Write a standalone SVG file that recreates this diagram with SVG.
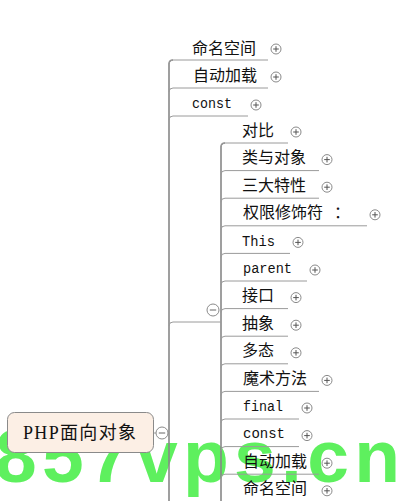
<svg xmlns="http://www.w3.org/2000/svg" xmlns:xlink="http://www.w3.org/1999/xlink" width="409" height="501" viewBox="0 0 409 501">
<style>
.cjk{font-family:"Noto Sans CJK SC","Liberation Sans",sans-serif;font-size:16px;fill:#111}
.lat{font-family:"Liberation Mono","Noto Sans CJK SC",monospace;font-size:14.5px;fill:#111}
.ul{fill:none;stroke:#9a9a9a;stroke-width:1}
.trunk{fill:none;stroke:#888;stroke-width:1.6}
.wm{font-family:"Liberation Sans",sans-serif;font-weight:bold;font-size:75px;fill:#5ef05e}
</style>
<defs>
<g id="plus"><circle r="5" fill="#fff" stroke="#8a8a8a" stroke-width="1"/><path d="M-2.8,0H2.8M0,-2.8V2.8" stroke="#555" stroke-width="1"/></g>
<g id="minus"><circle r="6" fill="#fff" stroke="#8a8a8a" stroke-width="1"/><path d="M-3.2,0H3.2" stroke="#666" stroke-width="1"/></g>
</defs>
<rect width="409" height="501" fill="#fff"/>
<text class="wm" x="-5" y="482" textLength="405" lengthAdjust="spacing">857vps.cn</text>

<g id="connectors">
<path class="trunk" d="M169,501V64Q169,60 173,60"/>
<path class="trunk" d="M221,501V147Q221,143 225,143"/>
<path class="ul" d="M169,326Q169,322 173,322H221"/>
<path class="ul" d="M154,433H156"/>
<path class="ul" d="M168,433H169"/>
<use xlink:href="#minus" x="162" y="433"/>
<use xlink:href="#minus" x="213" y="310"/>
</g>

<g id="root">
<rect x="7.5" y="412.5" width="146" height="40" rx="7" fill="#fcefe5" stroke="#8a8a8a" stroke-width="1"/>
<text x="23" y="439" font-family="Liberation Serif,Noto Sans CJK SC,serif" font-size="18" fill="#111" textLength="113" lengthAdjust="spacing">PHP面向对象</text>
</g>

<g id="n-top1"><path class="ul" d="M169,64Q169,60 173,60H268"/><text class="cjk" x="192" y="53.5">命名空间</text><use xlink:href="#plus" x="276" y="49"/></g>
<g id="n-top2"><path class="ul" d="M169,92Q169,88 173,88H268"/><text class="cjk" x="193" y="81">自动加载</text><use xlink:href="#plus" x="276" y="77"/></g>
<g id="n-top3"><path class="ul" d="M169,120Q169,116 173,116H248"/><text class="lat" x="192" y="107.5" textLength="40" lengthAdjust="spacingAndGlyphs">const</text><use xlink:href="#plus" x="256" y="105"/></g>

<g id="n-duibi"><path class="ul" d="M221,147Q221,143 225,143H288"/><text class="cjk" x="242" y="135.5">对比</text><use xlink:href="#plus" x="296" y="132"/></g>
<g id="n-lei"><path class="ul" d="M221,174.6Q221,170.6 225,170.6H319"/><text class="cjk" x="242" y="163.1">类与对象</text><use xlink:href="#plus" x="327" y="159.6"/></g>
<g id="n-sanda"><path class="ul" d="M221,202.2Q221,198.2 225,198.2H319"/><text class="cjk" x="242" y="190.7">三大特性</text><use xlink:href="#plus" x="327" y="187.2"/></g>
<g id="n-quanxian"><path class="ul" d="M221,229.8Q221,225.8 225,225.8H367"/><text class="cjk" x="243" y="218.3">权限修饰符<tspan x="334">：</tspan></text><use xlink:href="#plus" x="375" y="214.8"/></g>
<g id="n-this"><path class="ul" d="M221,257.4Q221,253.4 225,253.4H290"/><text class="lat" x="242" y="245.9" textLength="33" lengthAdjust="spacingAndGlyphs">This</text><use xlink:href="#plus" x="298" y="242.4"/></g>
<g id="n-parent"><path class="ul" d="M221,285Q221,281 225,281H307"/><text class="lat" x="243" y="273" textLength="49" lengthAdjust="spacingAndGlyphs">parent</text><use xlink:href="#plus" x="315" y="270"/></g>
<g id="n-jiekou"><path class="ul" d="M221,312.6Q221,308.6 225,308.6H288"/><text class="cjk" x="242" y="301.1">接口</text><use xlink:href="#plus" x="296" y="297.6"/></g>
<g id="n-chouxiang"><path class="ul" d="M221,340.2Q221,336.2 225,336.2H288"/><text class="cjk" x="242" y="328.7">抽象</text><use xlink:href="#plus" x="296" y="325.2"/></g>
<g id="n-duotai"><path class="ul" d="M221,367.8Q221,363.8 225,363.8H288"/><text class="cjk" x="242" y="356.3">多态</text><use xlink:href="#plus" x="296" y="352.8"/></g>
<g id="n-moshu"><path class="ul" d="M221,395.4Q221,391.4 225,391.4H319"/><text class="cjk" x="243" y="383.9">魔术方法</text><use xlink:href="#plus" x="327" y="380.4"/></g>
<g id="n-final"><path class="ul" d="M221,423Q221,419 225,419H299"/><text class="lat" x="243" y="410.5" textLength="40" lengthAdjust="spacingAndGlyphs">final</text><use xlink:href="#plus" x="307" y="408"/></g>
<g id="n-const"><path class="ul" d="M221,450.6Q221,446.6 225,446.6H299"/><text class="lat" x="243" y="438.1" textLength="42" lengthAdjust="spacingAndGlyphs">const</text><use xlink:href="#plus" x="307" y="435.6"/></g>
<g id="n-zidong"><path class="ul" d="M221,478.2Q221,474.2 225,474.2H319"/><text class="cjk" x="243" y="466.7">自动加载</text><use xlink:href="#plus" x="327" y="463.2"/></g>
<g id="n-mingming"><path class="ul" d="M221,505.8Q221,501.8 225,501.8H319"/><text class="cjk" x="243" y="494.3">命名空间</text><use xlink:href="#plus" x="327" y="490.8"/></g>
</svg>
